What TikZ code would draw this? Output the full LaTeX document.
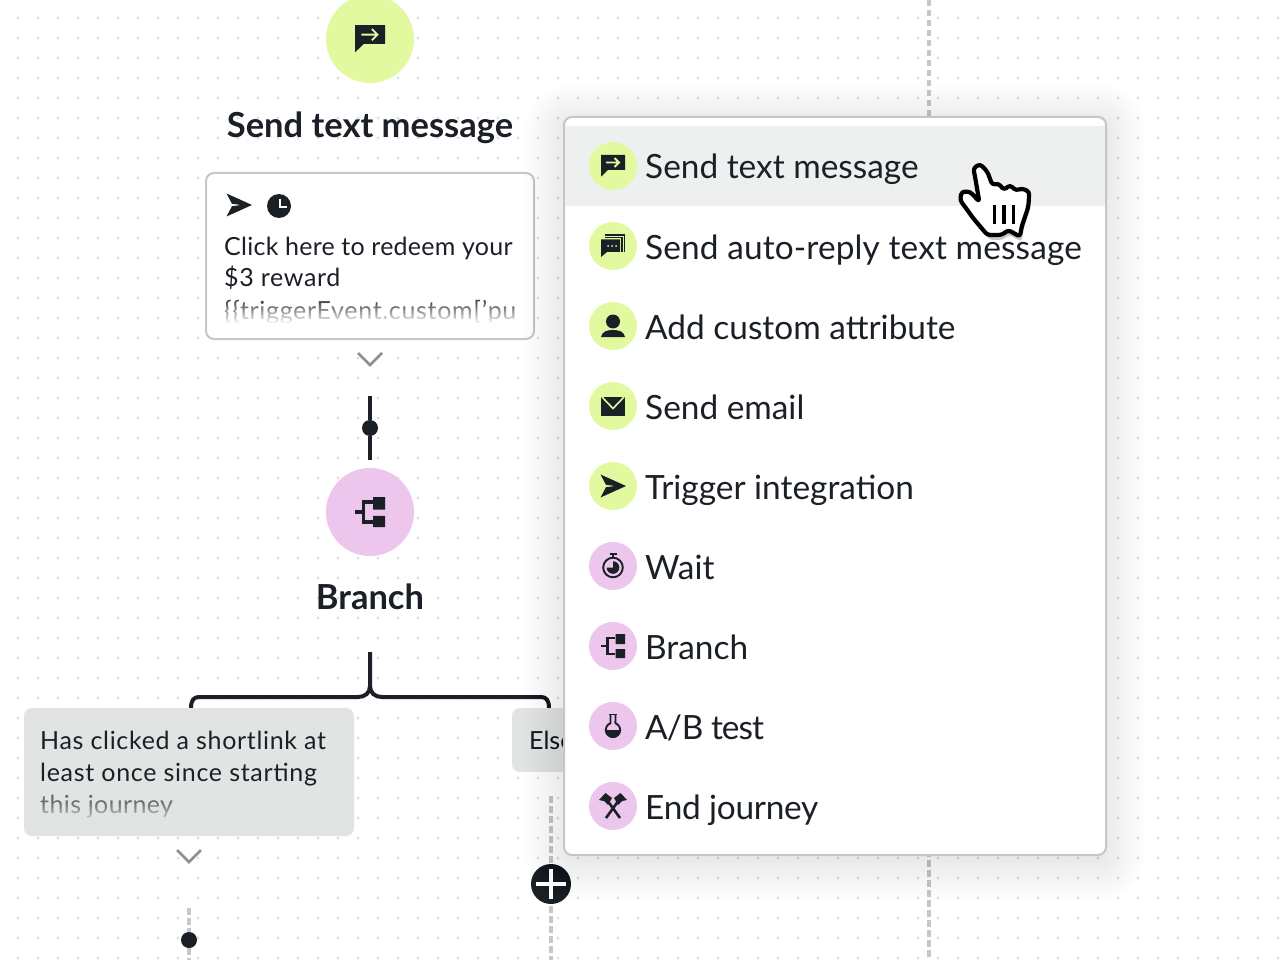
\documentclass[tikz,border=0pt]{standalone}
\usepackage{fontspec}
\setmainfont{Lato}
\usetikzlibrary{fadings,calc}
\definecolor{ink}{HTML}{1B1F26}
\definecolor{lime}{HTML}{E2F9A0}
\definecolor{pinkc}{HTML}{ECC6EC}
\definecolor{rowgray}{HTML}{EEF0F0}
\definecolor{cardgray}{HTML}{E2E4E4}
\definecolor{edgegray}{HTML}{C6C6C6}
\definecolor{dotgray}{HTML}{E0E0E0}
\definecolor{dashgray}{HTML}{C8C8C8}
\definecolor{chevgray}{HTML}{8E8E8E}
\newcommand{\fs}[1]{\fontsize{#1}{#1}\selectfont}
\newcommand{\lsp}[1]{\addfontfeature{LetterSpace=#1}}
\tikzset{
  disc/.style={circle,inner sep=0pt,minimum size=#1},
  rowlabel/.style={anchor=base west,inner sep=0pt,text=ink,font=\fs{33.4}},
  cardtext/.style={anchor=base west,inner sep=0pt,text=ink,font=\fs{25}},
  titletext/.style={anchor=base,inner sep=0pt,text=ink,font=\fs{34.5}\bfseries},
  dashline/.style={dashgray,line width=4pt,dash pattern=on 6.5pt off 3.5pt},
  chev/.style={chevgray,line width=2.6pt},
  pics/planeicon/.style={code={
    \fill[ink,line join=round] (13,0)--(-12.5,-11.5)--(-7,-1.2)--(2,0)--(-7,1.2)--(-12.5,11.5)--cycle;}},
  pics/texticon/.style={code={
    \fill[ink] (-12,-11)--(12,-11)--(12,4)--(-5,4)--(-12,10.7)--cycle;
    \draw[lime,line width=1.9pt] (-7,-3.5)--(6,-3.5) (1.5,-8)--(6,-3.5)--(1.5,1);}},
  pics/replyicon/.style={code={
    \fill[ink] (-12,-6.5)--(7,-6.5)--(7,6)--(-6,6)--(-12,11)--cycle;
    \fill[lime] (-5,0) circle (1) (-1,0) circle (1) (3,0) circle (1);
    \draw[ink,line width=1.6pt] (-8,-11)--(11.5,-11)--(11.5,6) (-8,-8.6)--(9,-8.6)--(9,6);}},
  pics/personicon/.style={code={
    \fill[ink] (0,-4.5) circle (7);
    \fill[ink] (-12,11) .. controls (-11,5.5) and (-6,4) .. (0,4) .. controls (6,4) and (11,5.5) .. (12,11) -- cycle;}},
  pics/mailicon/.style={code={
    \fill[ink] (-12,-9) rectangle (12,10);
    \draw[lime,line width=1.6pt] (-11,-9)--(0,2.5)--(11,-9);}},
  pics/waiticon/.style={code={
    \draw[ink,line width=1.9pt] (0,1.5) circle (9.8);
    \draw[ink,line width=2pt] (0,-8)--(0,-11.5) (-3.5,-12)--(3.5,-12);
    \fill[ink] (0,1.5)--(0,-4.8) arc[start angle=-90,delta angle=270,radius=6.3]--cycle;}},
  pics/branchicon/.style={code={
    \fill[ink] (2.5,-12) rectangle (12,-2) (2.5,3) rectangle (12,12);
    \draw[ink,line width=#1] (2,-8)--(-5.5,-8)--(-5.5,8)--(2,8) (-12,0)--(-5.5,0);}},
  pics/branchicon/.default=2.7pt,
  pics/flaskicon/.style={code={
    \draw[ink,line width=1.9pt] (-3.8,-11.5)--(3.8,-11.5);
    \draw[ink,line width=1.9pt,line join=round] (-2.5,-11.5)--(-2.5,-2.8) arc[start angle=-110,delta angle=-320,radius=7.2]--(2.5,-11.5);
    \fill[ink] (-7.3,4) arc[start angle=180,delta angle=-180,radius=7.3]--cycle;}},
  pics/axesicon/.style={code={
    \draw[ink,line width=2.6pt] (-6,-6)--(7,12) (6,-6)--(-7,12);
    \fill[ink] (-14,-6)--(-7.5,-13)--(-1,-8)--(-5,-1)--(-9,-5)--cycle;
    \fill[ink] (14,-6)--(7.5,-13)--(1,-8)--(5,-1)--(9,-5)--cycle;}},
}
\begin{document}
\begin{tikzpicture}[x=1pt,y=-1pt]
\useasboundingbox (0,0) rectangle (1280,960);
\fill[white] (0,0) rectangle (1280,960);
% dotted canvas
\foreach \i in {0,...,63}{\foreach \j in {0,...,47}{
  \fill[dotgray] ({18+20*\i},{18+20*\j}) circle (1.7);}}
% guide lines
\coordinate (guideT) at (929,0); \coordinate (guideB) at (929,960);
\draw[dashline] (guideT)--(guideB);
\coordinate (elseT) at (551,796); \coordinate (elseB) at (551,960);
\draw[dashline] (elseT)--(elseB);
\coordinate (hasT) at (189,908); \coordinate (hasB) at (189,960);
\draw[dashline] (hasT)--(hasB);
% first step
\node[disc=88pt,fill=lime] (sendc) at (370,39) {};
\pic[scale=1.25] at (sendc.center) {texticon};
\node[titletext] (sendt) at (370,138) {Send text message};
\draw[edgegray,line width=2pt,fill=white,rounded corners=8pt] (206,173) rectangle (534,339);
\pic[scale=1.0] at (239,205) {planeicon};
\node[disc=24pt,fill=ink] (clock) at (279,206) {};
\draw[white,line width=2.2pt] (280,199)--(280,207)--(287,207);
\begin{scope}
\clip (208,175) rectangle (516,322);
\node[cardtext] (c1) at (224,255) {\lsp{1}Click here to redeem your};
\node[cardtext] (c2) at (224,287) {\lsp{2.6}\$3 reward};
\node[cardtext] (c3) at (224,319) {\lsp{2.7}\{\{triggerEvent.custom['pu};
\end{scope}
\fill[white,path fading=north] (208,296) rectangle (532,324);
\draw[chev] (358,353)--(370,365)--(382,353);
% stem
\coordinate (stemT) at (370,396); \coordinate (stemB) at (370,460);
\node[disc=16pt,fill=ink] (stemdot) at (370,428) {};
\draw[ink,line width=4pt] (stemT)--(stemdot)--(stemB);
% branch
\node[disc=88pt,fill=pinkc] (branchc) at (370,512) {};
\pic[scale=1.25] at (branchc.center) {branchicon=3.2pt};
\node[titletext] (brancht) at (370,609) {Branch};
\coordinate (treeT) at (370,652);
\coordinate (treeL) at (191,708);
\coordinate (treeR) at (549,708);
\draw[ink,line width=4pt] (treeT)--(370,686) .. controls (370,693) and (365,697) .. (358,697)--(199,697) .. controls (194,697) and (191,700) .. (treeL);
\draw[ink,line width=4pt] (370,686) .. controls (370,693) and (375,697) .. (382,697)--(541,697) .. controls (546,697) and (549,700) .. (treeR);
% branch cards
\node[draw=none,fill=cardgray,rounded corners=8pt,inner sep=0pt,minimum width=330pt,minimum height=128pt] (hascard) at (189,772) {};
\node[cardtext] (h1) at (40,749) {\lsp{2.7}Has clicked a shortlink at};
\node[cardtext] (h2) at (40,781) {\lsp{2.8}least once since starting};
\node[cardtext] (h3) at (40,813) {\lsp{1.5}this journey};
\fill[cardgray,opacity=.4] (38,790) rectangle (340,822);
\fill[cardgray,path fading=north] (38,802) rectangle (340,824);
\draw[chev] (177,850)--(189,862)--(201,850);
\node[disc=16pt,fill=ink] (hasdot) at (189,940) {};
\fill[cardgray,rounded corners=8pt] (512,708) rectangle (640,772);
\node[cardtext] (elset) at (529,749) {Else};
% plus
\node[disc=40pt,fill=ink] (plus) at (551,884) {};
\draw[white,line width=4pt] (536,884)--(566,884) (551,869)--(551,899);
% popup shadow
\foreach \g in {40,38,...,0}{
  \pgfmathsetmacro{\rc}{\g+8}
  \fill[black,opacity=.003,rounded corners=\rc pt] ({564-\g},{117-\g+6}) rectangle ({1106+\g},{855+\g+6});}
% popup
\node[draw=edgegray,line width=2pt,fill=white,rounded corners=8pt,inner sep=0pt,minimum width=542pt,minimum height=738pt] (popup) at (835,486) {};
\fill[rowgray] (565,126) rectangle (1105,206);
% rows
\foreach \nm/\yy/\col/\ic/\tx in {
 a/166/lime/texticon/Send text message,
 b/246/lime/replyicon/{\lsp{.4}Send auto-reply text message},
 c/326/lime/personicon/Add custom attribute,
 d/406/lime/mailicon/Send email,
 e/486/lime/planeicon/Trigger integration,
 f/566/pinkc/waiticon/Wait,
 g/646/pinkc/branchicon/Branch,
 h/726/pinkc/flaskicon/{\lsp{-3}A\slash B test},
 i/806/pinkc/axesicon/{\lsp{-.8}End journey}}{
  \node[disc=48pt,fill=\col] (ic\nm) at (613,\yy) {};
  \pic at (ic\nm.center) {\ic};
  \node[rowlabel] (lb\nm) at (645,\yy+13) {\tx};
}
% hand cursor
\begin{scope}[shift={(930,140)},scale=1/3]
\fill[black,opacity=.22,rounded corners=3pt] (180,300)--(130,245)--(90,190)--(95,165)--(120,165)--(148,195)--(135,120)--(130,95)--(150,82)--(172,105)--(187,145)--(205,140)--(222,160)--(240,145)--(258,162)--(275,155)--(303,165)--(300,210)--(280,270)--(275,305)--(237,285)--(217,300)--cycle;
\draw[fill=white,line width=4.2pt,draw=black,rounded corners=3pt,line join=round] (172,285)--(130,235)--(90,180)--(95,155)--(120,155)--(148,185)--(135,110)--(130,85)--(150,72)--(172,95)--(187,135)--(205,130)--(222,150)--(240,135)--(258,152)--(275,145)--(298,155)--(295,200)--(275,260)--(270,290)--(235,270)--(215,285)--cycle;
\draw[black,line width=3.2pt] (193,195)--(193,252) (222,195)--(222,252) (250,195)--(250,252);
\end{scope}
\end{tikzpicture}
\end{document}
